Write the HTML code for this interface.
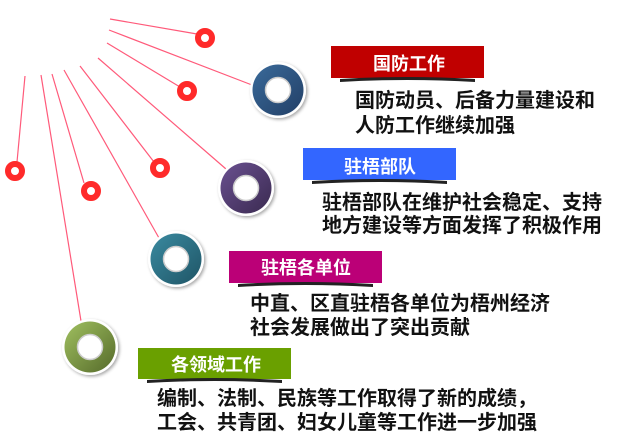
<!DOCTYPE html>
<html><head><meta charset="utf-8"><style>
html,body{margin:0;padding:0;background:#fff;width:621px;height:447px;overflow:hidden}
svg text{font-family:"Liberation Sans","Noto Sans CJK SC","WenQuanYi Zen Hei",sans-serif;font-weight:bold}
</style></head><body>
<svg width="621" height="447" viewBox="0 0 621 447" xmlns="http://www.w3.org/2000/svg">
<defs>
<linearGradient id="gb" x1="0" y1="0" x2="1" y2="1"><stop offset="0" stop-color="#3a6a9a"/><stop offset="1" stop-color="#223f66"/></linearGradient>
<linearGradient id="gp" x1="0" y1="0" x2="1" y2="1"><stop offset="0" stop-color="#6a5090"/><stop offset="1" stop-color="#3a2a50"/></linearGradient>
<linearGradient id="gt" x1="0" y1="0" x2="1" y2="1"><stop offset="0" stop-color="#3a8aa0"/><stop offset="1" stop-color="#1f5566"/></linearGradient>
<linearGradient id="gg" x1="0" y1="0" x2="1" y2="1"><stop offset="0" stop-color="#a0c060"/><stop offset="1" stop-color="#556a2a"/></linearGradient>
<filter id="sh" x="-30%" y="-30%" width="160%" height="160%"><feDropShadow dx="1.5" dy="1.5" stdDeviation="1.5" flood-color="#000" flood-opacity="0.35"/></filter>
</defs>
<g stroke="#ff5a7a" stroke-width="1.2" fill="none">
<line x1="110" y1="19" x2="197" y2="34"/>
<line x1="109" y1="30" x2="252" y2="85"/>
<line x1="107" y1="43" x2="180" y2="87"/>
<line x1="98" y1="58" x2="226" y2="169"/>
<line x1="80" y1="66" x2="154" y2="162"/>
<line x1="64" y1="70" x2="159" y2="238"/>
<line x1="52" y1="74" x2="84" y2="183"/>
<line x1="41" y1="75" x2="81" y2="321"/>
<line x1="25" y1="76" x2="17" y2="162"/>
</g>
<g fill="none" stroke="#ff2a2a" stroke-width="6">
<circle cx="205" cy="38" r="7"/>
<circle cx="187" cy="91" r="7"/>
<circle cx="160" cy="168" r="7"/>
<circle cx="91" cy="191" r="7"/>
<circle cx="15" cy="171" r="7"/>
</g>
<g filter="url(#sh)">
<circle cx="278" cy="90" r="28" fill="#fff"/>
<circle cx="246" cy="188" r="28" fill="#fff"/>
<circle cx="176" cy="259" r="28" fill="#fff"/>
<circle cx="90" cy="347" r="28" fill="#fff"/>
</g>
<circle cx="278" cy="90" r="25.5" fill="url(#gb)"/>
<circle cx="246" cy="188" r="25.5" fill="url(#gp)"/>
<circle cx="176" cy="259" r="25.5" fill="url(#gt)"/>
<circle cx="90" cy="347" r="25.5" fill="url(#gg)"/>
<g fill="#fff" stroke="#ccc" stroke-width="1.5">
<circle cx="278" cy="90" r="12.5"/>
<circle cx="246" cy="188" r="12.5"/>
<circle cx="176" cy="259" r="12.5"/>
<circle cx="90" cy="347" r="12.5"/>
</g>
<rect x="331" y="46" width="153" height="32" fill="#c00000"/>
<path d="M340 79 Q407 75 475 79 L475 82 Q407 78 340 82Z" fill="#222"/>
<text x="409" y="70" font-size="18" fill="#fff" text-anchor="middle">国防工作</text>
<rect x="303" y="148" width="153" height="32" fill="#3366ff"/>
<path d="M312 181 Q379 177 447 181 L447 184 Q379 180 312 184Z" fill="#222"/>
<text x="380" y="173" font-size="18" fill="#fff" text-anchor="middle">驻梧部队</text>
<rect x="229" y="251" width="153" height="32" fill="#bb0077"/>
<path d="M238 284 Q305 280 373 284 L373 287 Q305 283 238 287Z" fill="#222"/>
<text x="306" y="274" font-size="18" fill="#fff" text-anchor="middle">驻梧各单位</text>
<rect x="138" y="348" width="153" height="31" fill="#6aa000"/>
<path d="M147 380 Q214 376 282 380 L282 383 Q214 379 147 383Z" fill="#222"/>
<text x="216" y="371" font-size="18" fill="#fff" text-anchor="middle">各领域工作</text>
<g font-size="20" fill="#111">
<text x="355" y="107">国防动员、后备力量建设和</text>
<text x="355" y="132">人防工作继续加强</text>
<text x="322" y="209">驻梧部队在维护社会稳定、支持</text>
<text x="322" y="232">地方建设等方面发挥了积极作用</text>
<text x="250" y="310">中直、区直驻梧各单位为梧州经济</text>
<text x="250" y="334">社会发展做出了突出贡献</text>
<text x="157" y="405">编制、法制、民族等工作取得了新的成绩，</text>
<text x="157" y="429">工会、共青团、妇女儿童等工作进一步加强</text>
</g>
</svg>
</body></html>
